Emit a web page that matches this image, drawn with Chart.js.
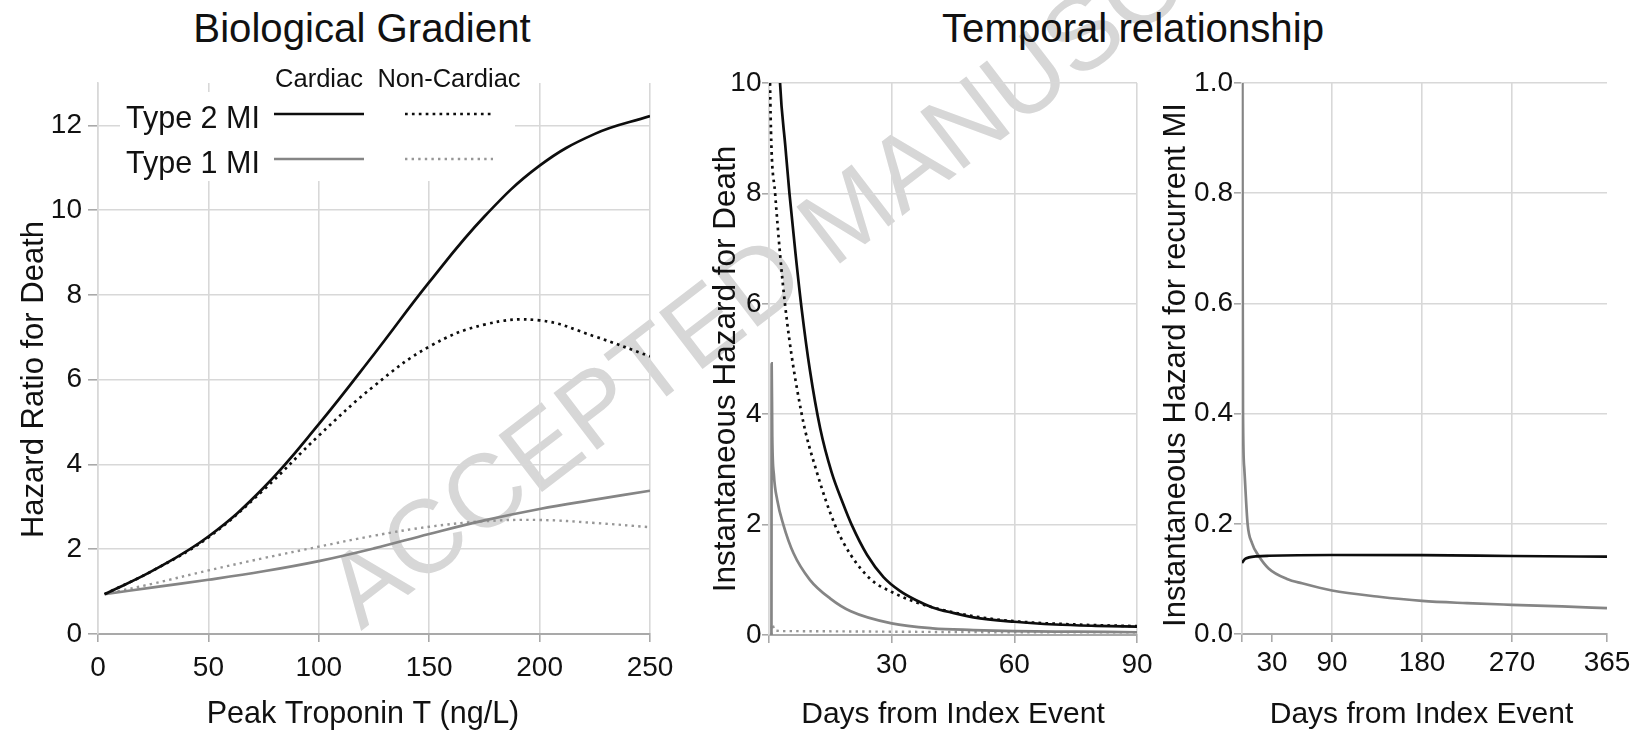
<!DOCTYPE html>
<html>
<head>
<meta charset="utf-8">
<title>Biological gradient and temporal relationship</title>
<script src="https://cdn.jsdelivr.net/npm/chart.js@4.4.1/dist/chart.umd.min.js"></script>
<style>
  html, body { margin: 0; padding: 0; background: #fff; }
  #page {
    position: relative;
    width: 1638px;
    height: 733px;
    overflow: hidden;
    font-family: "Liberation Sans", Arial, Helvetica, sans-serif;
    color: #111;
  }
  .panel { position: absolute; top: 0; height: 733px; }
  .title {
    position: absolute;
    top: 9px;
    font-size: 40.2px;
    line-height: 1;
    white-space: nowrap;
    transform: translateX(-50%);
  }
  .watermark {
    position: absolute;
    left: 361px;
    top: 543px;
    font-size: 104px;
    line-height: 1;
    color: #d7d7d7;
    white-space: nowrap;
    transform-origin: 0 88px;
    transform: rotate(-37.5deg);
  }
</style>
</head>
<body>
<div id="page">
  <div class="watermark">ACCEPTED MANUSCRIPT</div>
  <div class="title" style="left:362px">Biological Gradient</div>
  <div class="title" style="left:1133px">Temporal relationship</div>
  <div class="panel" style="left:0; width:690px"><canvas id="gradient"></canvas></div>
  <div class="panel" style="left:690px; width:475px"><canvas id="death"></canvas></div>
  <div class="panel" style="left:1150px; width:488px"><canvas id="recurrence"></canvas></div>
</div>

<script>
  // Biological gradient: hazard ratio for death by peak troponin T (ng/L)
  const troponin = [3, 25, 50, 75, 100, 125, 150, 175, 200, 225, 250];
  const hrType2Cardiac = [0.94, 1.5, 2.3, 3.45, 4.95, 6.6, 8.3, 9.85, 11.05, 11.8, 12.22];
  const hrType2NonCardiac = [0.94, 1.5, 2.28, 3.4, 4.68, 5.85, 6.78, 7.3, 7.4, 7.02, 6.55];
  const hrType1Cardiac = [0.94, 1.1, 1.28, 1.48, 1.72, 2.02, 2.36, 2.68, 2.95, 3.17, 3.38];
  const hrType1NonCardiac = [0.94, 1.19, 1.5, 1.79, 2.06, 2.32, 2.53, 2.66, 2.69, 2.62, 2.52];

  // Temporal relationship: instantaneous hazard for death, first 90 days
  const deathDaysType2Cardiac = [2.2, 2.7, 4, 5, 6.5, 8, 10, 12.5, 15.3, 18, 20.2, 24, 28, 32, 36, 40, 45, 50, 60, 70, 80, 90];
  const deathType2Cardiac = [11.0, 10.0, 8.85, 8.0, 6.9, 5.9, 4.8, 3.75, 2.95, 2.4, 2.0, 1.45, 1.05, 0.8, 0.63, 0.5, 0.4, 0.32, 0.24, 0.19, 0.165, 0.15];
  const deathDaysType2NonCardiac = [0.1, 0.25, 1.5, 3.9, 8.0, 11.7, 16.1, 20, 25, 30, 35, 40, 50, 60, 75, 90];
  const deathType2NonCardiac = [11.5, 10.0, 8.0, 6.0, 4.0, 2.95, 2.0, 1.45, 1.0, 0.78, 0.62, 0.5, 0.34, 0.25, 0.19, 0.16];
  const deathDaysType1Cardiac = [0.6, 0.65, 0.8, 1.2, 2.0, 3.5, 6, 10, 15, 20, 30, 40, 50, 60, 75, 90];
  const deathType1Cardiac = [0, 4.92, 3.6, 2.9, 2.45, 2.0, 1.48, 1.0, 0.66, 0.43, 0.21, 0.12, 0.09, 0.07, 0.06, 0.05];
  const deathDaysType1NonCardiac = [0.6, 0.7, 1.5, 5, 30, 60, 90];
  const deathType1NonCardiac = [0, 0.2, 0.08, 0.07, 0.06, 0.05, 0.05];

  // Temporal relationship: instantaneous hazard for recurrent MI, first year
  const miDaysType2 = [0, 3, 7, 15, 27, 90, 180, 270, 365];
  const miType2 = [0.129, 0.136, 0.139, 0.141, 0.142, 0.1434, 0.143, 0.1416, 0.1403];
  const miDaysType1 = [0.3, 0.6, 1.0, 2.3, 5.6, 10, 16.6, 26.6, 45, 60, 90, 135, 180, 225, 270, 320, 365];
  const miType1 = [1.3, 0.7, 0.4, 0.3, 0.2, 0.165, 0.142, 0.119, 0.1, 0.092, 0.079, 0.068, 0.06, 0.056, 0.053, 0.05, 0.047];

  // tick labels
  const deathDayTicks = [0, 30, 60, 90];
  const miDayTicks = [0, 30, 90, 180, 270, 365];
  const miDayGridLines = [0, 90, 180, 270];

  const FONT = '"Liberation Sans", Arial, Helvetica, sans-serif';
  const BLACK = "#0d0d0d";
  const GREY = "#858585";
  const GREY_DOT = "#979797";
  const GRID = "#d8d8d8";
  const AXIS = "#a9a9a9";
  const TICK_SIZE = 28;

  Chart.defaults.font.family = FONT;
  Chart.defaults.color = "#111";

  function points(xs, ys) {
    return xs.map((x, i) => ({ x: x, y: ys[i] }));
  }

  // steep: keep monotone interpolation so near-vertical starts do not overshoot
  function series(xs, ys, color, dotted, steep) {
    const width = dotted && color !== BLACK ? 2.4 : 2.7;
    return {
      data: points(xs, ys),
      borderColor: color,
      borderWidth: width,
      borderDash: dotted ? [width, 4.2] : [],
      pointRadius: 0,
      fill: false,
      cubicInterpolationMode: steep ? "monotone" : "default",
      tension: 0.4,
    };
  }

  function xAxis(height, extra) {
    return Object.assign({
      type: "linear",
      border: { color: AXIS, width: 2 },
      grid: { color: GRID, lineWidth: 1.6, tickLength: 8, tickColor: AXIS },
      afterFit: (scale) => { scale.height = height; },
    }, extra);
  }

  function yAxis(width, extra) {
    return Object.assign({
      border: { color: GRID, width: 1.6 },
      afterFit: (scale) => { scale.width = width; },
    }, extra);
  }

  // axis titles, placed against the plot area (the source figure does not centre them exactly)
  const axisTitles = {
    id: "axisTitles",
    afterDraw(chart, args, opts) {
      const ctx = chart.ctx;
      const a = chart.chartArea;
      ctx.save();
      ctx.fillStyle = "#111";
      ctx.textAlign = "center";
      ctx.textBaseline = "alphabetic";

      ctx.font = opts.xSize + "px " + FONT;
      ctx.fillText(opts.xText, (a.left + a.right) / 2 + opts.xShift, 722.5);

      ctx.font = opts.ySize + "px " + FONT;
      ctx.translate(opts.yBaseline, (a.top + a.bottom) / 2 + opts.yShift);
      ctx.rotate(-Math.PI / 2);
      ctx.fillText(opts.yText, 0, 0);
      ctx.restore();
    },
  };

  function baseOptions(padding, titles, scales) {
    return {
      responsive: true,
      maintainAspectRatio: false,
      animation: false,
      layout: { padding: padding },
      plugins: { legend: { display: false }, tooltip: { enabled: false }, axisTitles: titles },
      scales: scales,
    };
  }

  // two-column key (Cardiac / Non-Cardiac) in the top-left corner of the gradient panel
  const miKey = {
    id: "miKey",
    beforeDatasetsDraw(chart) {
      const ctx = chart.ctx;
      const left = chart.chartArea.left;
      const top = chart.chartArea.top;
      const solidX = [left + 176, left + 266];
      const dotX = [left + 307, left + 395];
      const rows = [
        { label: "Type 2 MI", y: top + 31, solid: BLACK, dot: BLACK, dotWidth: 2.7 },
        { label: "Type 1 MI", y: top + 76, solid: GREY, dot: GREY_DOT, dotWidth: 2.4 },
      ];

      ctx.save();
      ctx.fillStyle = "#fff";
      ctx.fillRect(left + 22, top + 9, 395, 89);

      ctx.font = "25.5px " + FONT;
      ctx.textAlign = "center";
      ctx.textBaseline = "alphabetic";
      [["Cardiac", (solidX[0] + solidX[1]) / 2], ["Non-Cardiac", (dotX[0] + dotX[1]) / 2]].forEach(([text, cx]) => {
        const w = ctx.measureText(text).width;
        ctx.fillStyle = "#fff";
        ctx.fillRect(cx - w / 2 - 2, top, w + 4, 10);
        ctx.fillStyle = "#111";
        ctx.fillText(text, cx, top + 4);
      });

      ctx.font = "30.5px " + FONT;
      ctx.textAlign = "left";
      rows.forEach((row) => {
        ctx.fillStyle = "#111";
        ctx.fillText(row.label, left + 28, row.y + 14);

        ctx.lineWidth = 2.7;
        ctx.strokeStyle = row.solid;
        ctx.setLineDash([]);
        ctx.beginPath();
        ctx.moveTo(solidX[0], row.y);
        ctx.lineTo(solidX[1], row.y);
        ctx.stroke();

        ctx.lineWidth = row.dotWidth;
        ctx.strokeStyle = row.dot;
        ctx.setLineDash([row.dotWidth, 4.2]);
        ctx.beginPath();
        ctx.moveTo(dotX[0], row.y);
        ctx.lineTo(dotX[1], row.y);
        ctx.stroke();
      });
      ctx.restore();
    },
  };

  new Chart(document.getElementById("gradient"), {
    type: "line",
    data: {
      datasets: [
        series(troponin, hrType2Cardiac, BLACK, false, false),
        series(troponin, hrType2NonCardiac, BLACK, true, false),
        series(troponin, hrType1Cardiac, GREY, false, false),
        series(troponin, hrType1NonCardiac, GREY_DOT, true, false),
      ],
    },
    options: baseOptions(
      { top: 83, right: 40, bottom: 0, left: 0 },
      { xText: "Peak Troponin T (ng/L)", xSize: 30.5, xShift: -11,
        yText: "Hazard Ratio for Death", ySize: 31, yBaseline: 42.5, yShift: 21 },
      {
        x: xAxis(99, { min: 0, max: 250,
          ticks: { font: { size: TICK_SIZE }, padding: 9.5, maxRotation: 0, stepSize: 50 } }),
        y: yAxis(98, { min: 0, max: 13,
          grid: { color: GRID, lineWidth: 1.6, tickLength: 10, tickColor: AXIS },
          ticks: { font: { size: TICK_SIZE }, padding: 6, stepSize: 2, includeBounds: false } }),
      }
    ),
    plugins: [miKey, axisTitles],
  });

  new Chart(document.getElementById("death"), {
    type: "line",
    data: {
      datasets: [
        series(deathDaysType2Cardiac, deathType2Cardiac, BLACK, false, true),
        series(deathDaysType2NonCardiac, deathType2NonCardiac, BLACK, true, true),
        series(deathDaysType1Cardiac, deathType1Cardiac, GREY, false, true),
        series(deathDaysType1NonCardiac, deathType1NonCardiac, GREY_DOT, true, true),
      ],
    },
    options: baseOptions(
      { top: 83, right: 28, bottom: 0, left: 0 },
      { xText: "Days from Index Event", xSize: 30, xShift: 0,
        yText: "Instantaneous Hazard for Death", ySize: 31.5, yBaseline: 45, yShift: 10 },
      {
        x: xAxis(98, { min: 0, max: 90,
          afterBuildTicks: (scale) => { scale.ticks = deathDayTicks.map((v) => ({ value: v })); },
          ticks: { font: { size: TICK_SIZE }, padding: 5.5, maxRotation: 0, autoSkip: false,
            callback: (v) => (v === 0 ? "" : v) } }),
        y: yAxis(79, { min: 0, max: 10,
          grid: { color: GRID, lineWidth: 1.6, tickLength: 7, tickColor: AXIS },
          ticks: { font: { size: TICK_SIZE }, padding: 0.5, stepSize: 2 } }),
      }
    ),
    plugins: [axisTitles],
  });

  new Chart(document.getElementById("recurrence"), {
    type: "line",
    data: {
      datasets: [
        series(miDaysType2, miType2, BLACK, false, true),
        series(miDaysType1, miType1, GREY, false, true),
      ],
    },
    options: baseOptions(
      { top: 83, right: 31, bottom: 0, left: 0 },
      { xText: "Days from Index Event", xSize: 30, xShift: -3,
        yText: "Instantaneous Hazard for recurrent MI", ySize: 31, yBaseline: 35, yShift: 6.5 },
      {
        x: xAxis(99, { min: 0, max: 365,
          afterBuildTicks: (scale) => { scale.ticks = miDayTicks.map((v) => ({ value: v })); },
          grid: { lineWidth: 1.6, tickLength: 8, tickColor: AXIS,
            color: (c) => (c.tick && miDayGridLines.includes(c.tick.value) ? GRID : "rgba(0,0,0,0)") },
          ticks: { font: { size: TICK_SIZE }, padding: 4.5, maxRotation: 0, autoSkip: false,
            callback: (v) => (v === 0 ? "" : v) } }),
        y: yAxis(92, { min: 0, max: 1,
          grid: { color: GRID, lineWidth: 1.6, tickLength: 8, tickColor: AXIS },
          ticks: { font: { size: TICK_SIZE }, padding: 1, stepSize: 0.2, callback: (v) => v.toFixed(1) } }),
      }
    ),
    plugins: [axisTitles],
  });
</script>
</body>
</html>
